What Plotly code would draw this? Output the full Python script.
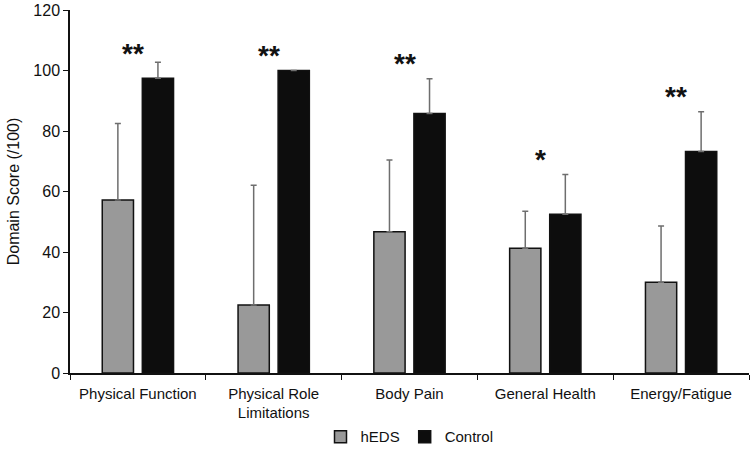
import plotly.graph_objects as go

categories = ["Physical Function", "Physical Role<br>Limitations", "Body Pain", "General Health", "Energy/Fatigue"]
heds_mean = [57.2, 22.5, 46.7, 41.2, 30.0]
heds_err = [25.3, 39.6, 23.7, 12.3, 18.6]
control_mean = [97.4, 100.0, 85.8, 52.5, 73.2]
control_err = [5.3, 0.0, 11.5, 13.1, 13.2]
significance = ["**", "**", "**", "*", "**"]

FONT = "Liberation Sans, Arial, sans-serif"

fig = go.Figure()
fig.add_trace(go.Bar(
    name="hEDS", x=categories, y=heds_mean,
    marker=dict(color="#999999", line=dict(color="#111111", width=1.5)),
    error_y=dict(type="data", array=heds_err, arrayminus=[0]*len(heds_err),
                 color="#6e6e6e", thickness=1.5, width=3),
))
fig.add_trace(go.Bar(
    name="Control", x=categories, y=control_mean,
    marker=dict(color="#0d0d0d", line=dict(color="#111111", width=1.5)),
    error_y=dict(type="data", array=control_err, arrayminus=[0]*len(control_err),
                 color="#6e6e6e", thickness=1.5, width=3),
))

for cat, c, e, s in zip(categories, control_mean, control_err, significance):
    fig.add_annotation(x=cat, y=min(c + e + 5, 105.5), text="<b>" + s + "</b>", showarrow=False,
                       xshift=-5, yanchor="middle",
                       font=dict(family=FONT, size=28, color="#111111"))

fig.update_layout(
    width=753, height=451,
    margin=dict(l=70, r=4, t=10, b=78, autoexpand=False),
    paper_bgcolor="white", plot_bgcolor="white",
    barmode="group", bargap=0.41, bargroupgap=0.22,
    font=dict(family=FONT, size=15, color="#111111"),
    showlegend=True,
    legend=dict(orientation="h", x=0.5, xanchor="center", y=-0.176, yanchor="middle",
                font=dict(size=15), itemwidth=30, traceorder="normal"),
)
fig.update_xaxes(
    showline=True, linecolor="#111111", linewidth=1.5, automargin=False,
    ticks="outside", tickson="boundaries", ticklen=5, tickcolor="#111111",
    showgrid=False, tickfont=dict(size=15), ticklabelstandoff=6,
)
fig.update_yaxes(
    range=[0, 120], dtick=20, showline=True, linecolor="#111111", linewidth=1.5,
    automargin=False,
    ticks="outside", ticklen=5, tickcolor="#111111", showgrid=False, zeroline=False,
    title=dict(text="Domain Score (/100)", font=dict(size=16), standoff=10),
    tickfont=dict(size=16),
)

fig.write_html("out.html", config={"displayModeBar": False},
               post_script="document.body.style.margin='0';document.body.style.overflow='hidden';")
